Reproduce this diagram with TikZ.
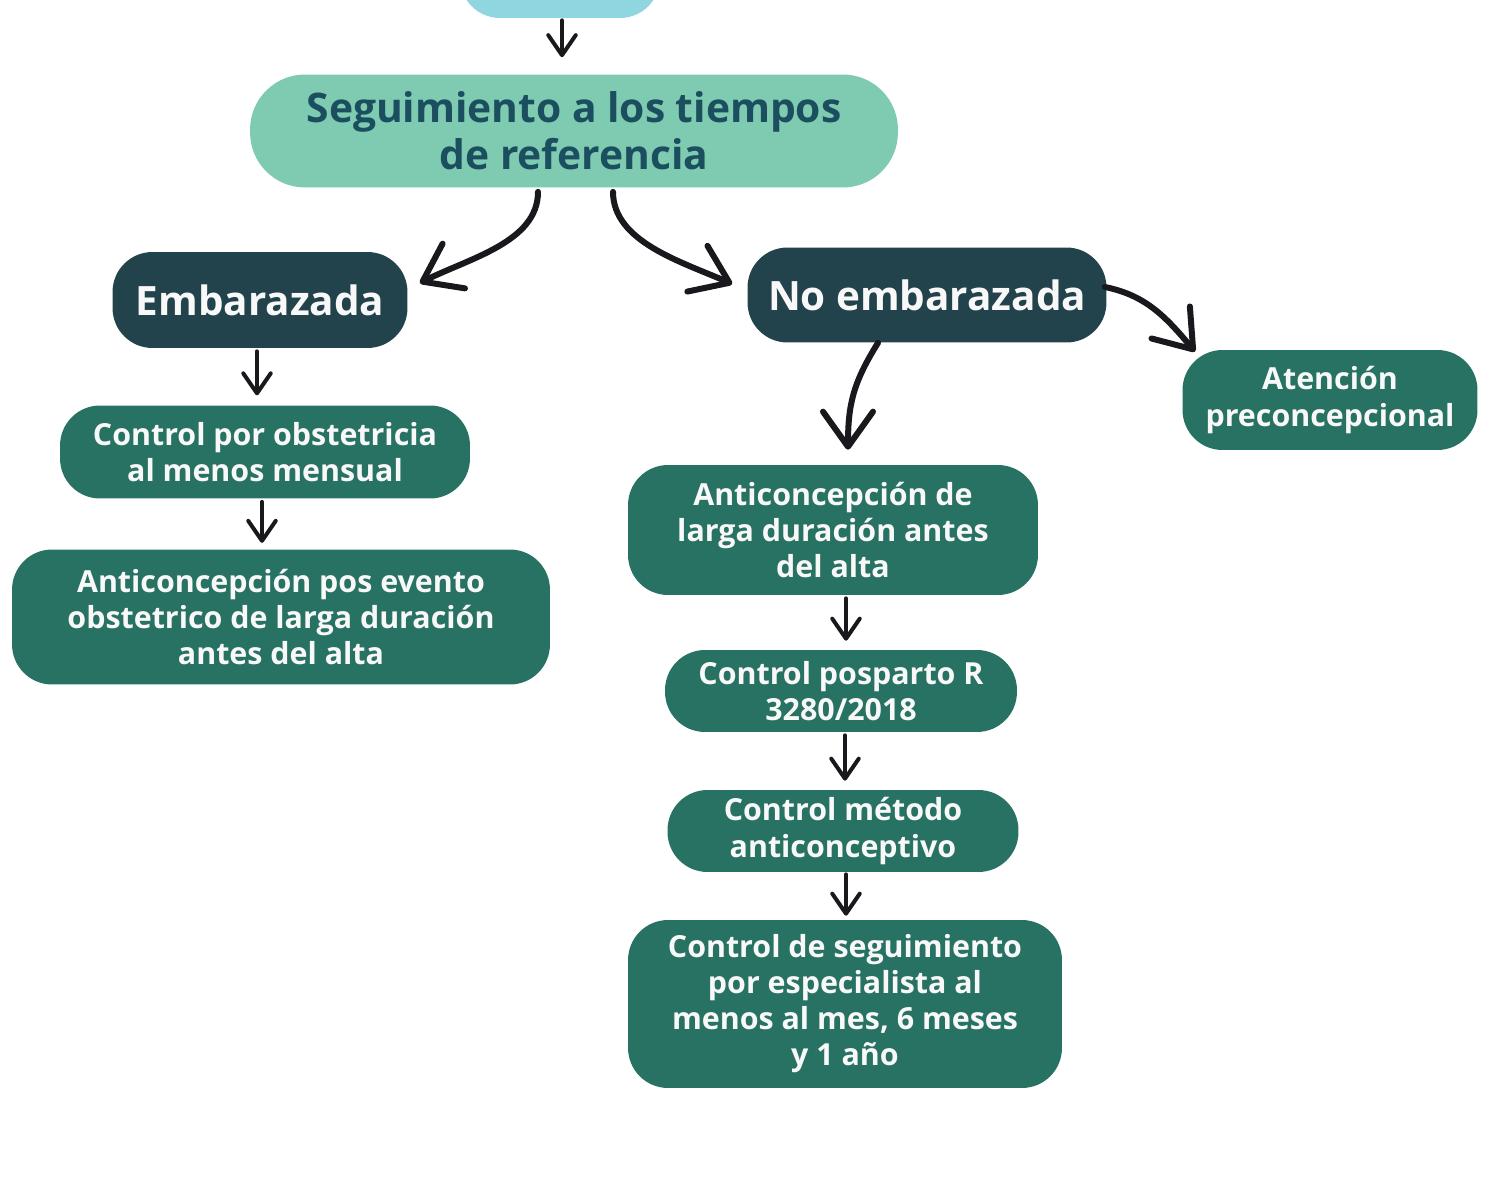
\documentclass[tikz,border=0pt]{standalone}
\usepackage{fontspec}
\setmainfont{Open Sans}
\usetikzlibrary{arrows.meta}
\usetikzlibrary{calc}
\definecolor{cyanbox}{HTML}{8FD6E0}
\definecolor{mintbox}{HTML}{7ECBB1}
\definecolor{titletext}{HTML}{1B4E5E}
\definecolor{darkbox}{HTML}{22434B}
\definecolor{greenbox}{HTML}{287263}
\definecolor{inkline}{HTML}{19181D}
\definecolor{offwhite}{HTML}{F8F8F8}
\tikzset{
  blob/.style={rectangle,rounded corners=0.8cm,fill=greenbox,text=offwhite,inner sep=0pt,
    align=center,font=\bfseries\fontsize{17.3}{20.5}\selectfont},
  darkblob/.style={blob,fill=darkbox,font=\bfseries\fontsize{23}{28}\selectfont},
  arr/.style={draw=inkline,line width=0.8mm,line cap=round,
    -{Straight Barb[length=4mm,width=5.5mm,round]}},
  bigarr/.style={draw=inkline,line width=1.2mm,line cap=round,
    -{Straight Barb[length=7mm,width=10mm,round]}}
}
\begin{document}
\begin{tikzpicture}[x=0.02cm,y=-0.02cm]
  \useasboundingbox (0,0) rectangle (1488,1186);
  \clip (0,0) rectangle (1488,1186);
  \node (top) [blob,fill=cyanbox,minimum width=4cm,minimum height=1.56cm] at (560,-21) {};
  \node (seg) [blob,fill=mintbox,text=titletext,rounded corners=1.1cm,minimum width=12.96cm,minimum height=2.26cm,
    font=\bfseries\fontsize{23.2}{26.7}\selectfont] at (574,131) {Seguimiento a los tiempos\\de referencia};
  \node (emb) [darkblob,minimum width=5.9cm,minimum height=1.92cm] at (260,300) {Embarazada};
  \node (noemb) [darkblob,minimum width=7.18cm,minimum height=1.9cm] at (927,295) {No embarazada};
  \node (aten) [blob,minimum width=5.9cm,minimum height=2cm] at (1330,400) {Atención\\preconcepcional};
  \node (obst) [blob,minimum width=8.2cm,minimum height=1.86cm] at (265,452) {Control por obstetricia\\al menos mensual};
  \node (antpos) [blob,minimum width=10.76cm,minimum height=2.7cm] at (281,617)
    {Anticoncepción pos evento\\obstetrico de larga duración\\antes del alta};
  \node (antlar) [blob,minimum width=8.2cm,minimum height=2.6cm] at (833,530)
    {Anticoncepción de\\larga duración antes\\del alta};
  \node (pospar) [blob,minimum width=7.04cm,minimum height=1.64cm] at (841,691) {Control posparto R\\3280/2018};
  \node (metodo) [blob,minimum width=7.02cm,minimum height=1.64cm] at (843,831) {Control método\\anticonceptivo};
  \node (segesp) [blob,minimum width=8.68cm,minimum height=3.36cm] at (845,1004)
    {Control de seguimiento\\por especialista al\\menos al mes, 6 meses\\y 1 año};

  % straight connectors
  \draw[arr] ($(top.south)+(2,2)$) -- ($(seg.north)+(-12,-17)$);
  \draw[arr] ($(emb.south)+(-3,3)$) -- ($(emb.south)+(-3,47)$);
  \draw[arr] ($(obst.south)+(-3,3)$) -- ($(obst.south)+(-3,44)$);
  \draw[arr] ($(antlar.south)+(13,3)$) -- ($(pospar.north)+(5,-9)$);
  \draw[arr] ($(pospar.south)+(4,3)$) -- ($(metodo.north)+(2,-9)$);
  \draw[arr] ($(metodo.south)+(3,2)$) -- ($(segesp.north)+(1,-4)$);
  % curved connectors
  \draw[bigarr] ($(seg.south)+(-36,4)$) .. controls +(0,50) and +(50,-25) .. ($(emb.east)+(12,-17)$);
  \draw[bigarr] ($(seg.south)+(39,4)$) .. controls +(0,50) and +(-50,-22) .. ($(noemb.west)+(-15,-11)$);
  \draw[bigarr] ($(noemb.east)+(-2,-8)$) .. controls +(40,8) and +(-30,-36) .. ($(aten.north)+(-135,2)$);
  \draw[bigarr] ($(noemb.south)+(-49,0)$) .. controls +(-25,40) and +(0,-45) .. ($(antlar.north)+(15,-15)$);
\end{tikzpicture}
\end{document}
